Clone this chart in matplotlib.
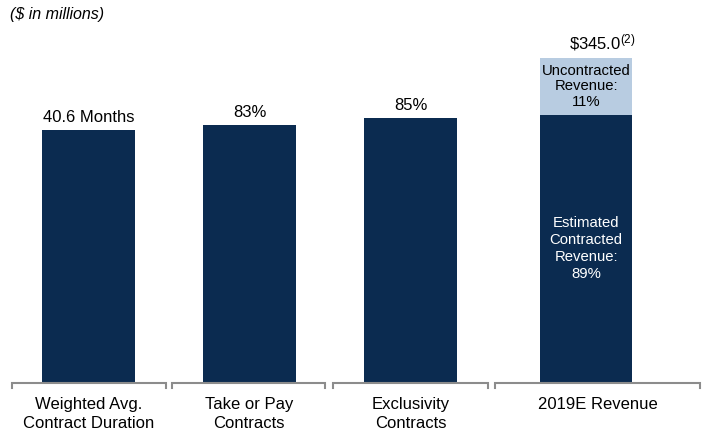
import matplotlib
matplotlib.use("Agg")
import matplotlib.pyplot as plt

plt.rcParams["font.family"] = ["Liberation Sans", "DejaVu Sans"]
plt.rcParams["mathtext.fontset"] = "custom"
plt.rcParams["mathtext.rm"] = "Liberation Sans"
plt.rcParams["mathtext.default"] = "regular"

# ── data (heights are the drawn heights, the graphic is not to scale) ──
categories = ["Weighted Avg.\nContract Duration", "Take or Pay\nContracts",
              "Exclusivity\nContracts", "2019E Revenue"]
simple_heights = [252, 257, 264]
simple_labels = ["40.6 Months", "83%", "85%"]
contracted_height = 267
uncontracted_height = 57
total_label = r"$\$345.0^{(2)}$"
contracted_label = "Estimated\nContracted\nRevenue:\n89%"
uncontracted_label = "Uncontracted\nRevenue:\n11%"

# ── layout ──
positions = [0, 1, 2, 3.09]
bracket_spans = [(-0.475, 0.48), (0.52, 1.47), (1.52, 2.48), (2.525, 3.8)]
NAVY = "#0b2b50"
LIGHT = "#b8cce1"
GREY = "#8c8c8c"

fig = plt.figure(figsize=(7.02, 4.31), dpi=100)
ax = fig.add_axes([0, 48 / 431, 1, 383 / 431])
ax.set_xlim(-0.55, 3.81)
ax.set_ylim(0, 383)
ax.axis("off")

width = 0.575
bars = ax.bar(positions[:3], simple_heights, width=width, color=NAVY)
for b, lab in zip(bars, simple_labels):
    ax.annotate(lab, (b.get_x() + b.get_width() / 2, b.get_height()),
                xytext=(0, 4), textcoords="offset points",
                ha="center", va="bottom", fontsize=12)

x4 = positions[3]
ax.bar(x4, contracted_height, width=width, color=NAVY)
ax.bar(x4, uncontracted_height, width=width, bottom=contracted_height, color=LIGHT)
ax.text(x4, contracted_height / 2 + 1, contracted_label, ha="center", va="center",
        color="white", fontsize=10.7, linespacing=1.3)
ax.text(x4, contracted_height + uncontracted_height / 2 + 1, uncontracted_label,
        ha="center", va="center", color="black", fontsize=10.7, linespacing=1.15)
ax.annotate(total_label, (x4 + 0.1, contracted_height + uncontracted_height),
            xytext=(0, 4), textcoords="offset points",
            ha="center", va="bottom", fontsize=12)

# brackets under each group
for (x0, x1), cat in zip(bracket_spans, categories):
    ax.plot([x0, x0, x1, x1], [-6, -1, -1, -6], color=GREY, lw=1.5,
            clip_on=False, solid_joinstyle="miter")
    ax.text((x0 + x1) / 2, -14, cat, ha="center", va="top", fontsize=12,
            linespacing=1.3)

fig.text(10 / 702, 1 - 14 / 431, "($ in millions)", style="italic",
         fontsize=11.5, ha="left", va="center")

fig.savefig("out.png", dpi=100)
